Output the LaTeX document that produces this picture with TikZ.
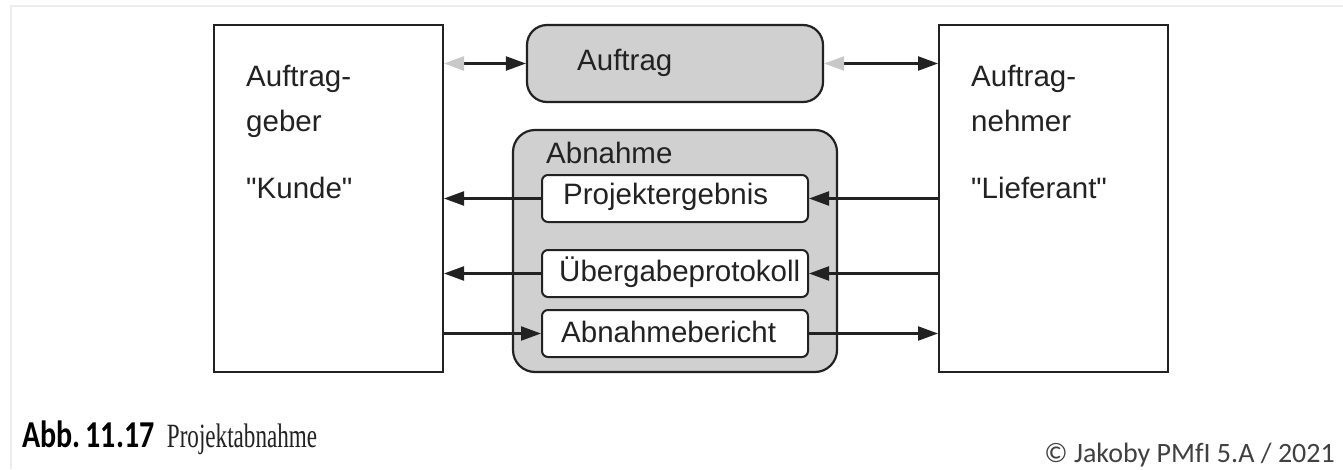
\documentclass[tikz,border=0pt]{standalone}
\usepackage{fontspec}
\setmainfont{Liberation Sans}
\newfontfamily\capsans{Carlito}
\newfontfamily\capserif{Liberation Serif}
\usetikzlibrary{arrows.meta,positioning}
\definecolor{ink}{HTML}{222222}
\definecolor{panel}{HTML}{D0D0D0}
\definecolor{ghost}{HTML}{C8C8C8}
\definecolor{frameline}{HTML}{EDEDED}
\begin{document}
\begin{tikzpicture}[x=1pt,y=-1pt,
  party/.style={draw=ink,line width=2pt,fill=white,minimum width=229pt,minimum height=347pt,inner sep=0pt},
  roundpanel/.style={draw=ink,line width=2.2pt,fill=panel,rounded corners=20pt,inner sep=0pt},
  docbox/.style={draw=ink,line width=2pt,fill=white,rounded corners=6pt,minimum width=266pt,minimum height=47pt,inner sep=0pt},
  lbl/.style={anchor=base west,inner sep=0pt,text=ink,font=\fontsize{29.5}{34}\selectfont},
  flow/.style={draw=ink,line width=2.2pt,-{Triangle[length=20pt,width=14pt]}},
  flowback/.style={draw=ink,line width=2.2pt,{Triangle[length=20pt,width=14pt,color=ghost]}-{Triangle[length=20pt,width=14pt]}}]
\useasboundingbox[fill=white] (0,0) rectangle (1343,469);
% faint page frame
\draw[frameline,line width=2pt] (11,469) -- (11,6) -- (1343,6);

% the two parties
\node[party] (geber) at (328.5,198.5) {};
\node[party] (nehmer) at (1053.5,198.5) {};
\node[lbl] (g1) at (246,86) {Auftrag-};
\node[lbl] (g2) at (246,131) {geber};
\node[lbl] (g3) at (246,198) {\textquotedbl Kunde\textquotedbl};
\node[lbl] (n1) at (971,86) {Auftrag-};
\node[lbl] (n2) at (971,131) {nehmer};
\node[lbl] (n3) at (971,198) {\textquotedbl Lieferant\textquotedbl};

% order
\node[roundpanel,minimum width=296pt,minimum height=77pt] (auftrag) at (675,63.5) {};
\node[lbl,anchor=west] (auftragtxt) at (577,63) {Auftrag};

% acceptance
\node[roundpanel,rounded corners=22pt,minimum width=324pt,minimum height=242pt] (abnahme) at (675,251) {};
\node[lbl] (abnahmetxt) at (546,163) {Abnahme};
\node[docbox] (ergebnis) at (675,198.5) {};
\node[docbox] (protokoll) at (675,273.5) {};
\node[docbox] (bericht) at (675,333.5) {};
\node[lbl,anchor=west] at (563,197) {Projektergebnis};
\node[lbl,anchor=west] at (559,272) {Übergabeprotokoll};
\node[lbl,anchor=west] at (561,332) {Abnahmebericht};

% connectors
\draw[flowback] (geber.east |- auftrag.west) -- (auftrag.west);
\draw[flowback] (auftrag.east) -- (nehmer.west |- auftrag.east);
\draw[flow] (nehmer.west |- ergebnis.east) -- (ergebnis.east);
\draw[flow] (ergebnis.west) -- (geber.east |- ergebnis.west);
\draw[flow] (nehmer.west |- protokoll.east) -- (protokoll.east);
\draw[flow] (protokoll.west) -- (geber.east |- protokoll.west);
\draw[flow] (geber.east |- bericht.west) -- (bericht.west);
\draw[flow] (bericht.east) -- (nehmer.west |- bericht.east);

% caption (condensed faces) and credit
\node[anchor=base west,inner sep=0pt,font=\capsans\bfseries\fontsize{38}{42}\selectfont,text=black] (capnum) at (22,447) {\scalebox{0.79}[1]{Abb.\,11.17}};
\node[anchor=base west,inner sep=0pt,font=\capserif\fontsize{34}{38}\selectfont,text=ink] (captxt) at (capnum.base east) {\hspace{12pt}\scalebox{0.68}[1]{Projektabnahme}};
\node[anchor=base east,inner sep=0pt,font=\capsans\fontsize{28}{32}\selectfont,text=black!75] (credit) at (1335,462) {© Jakoby PMfI 5.A / 2021};
\end{tikzpicture}
\end{document}
